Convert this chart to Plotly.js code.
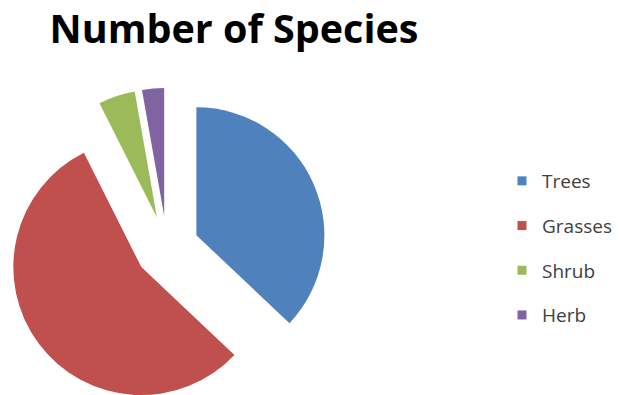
<!DOCTYPE html>
<html>
<head>
<meta charset="utf-8">
<script src="https://cdn.plot.ly/plotly-3.0.1.min.js"></script>
<style>
  html, body { margin: 0; padding: 0; overflow: hidden; background: #fff; }
  #chart { width: 619px; height: 410px; }
</style>
</head>
<body>
<div id="chart"></div>
<script>
const categories = ["Trees", "Grasses", "Shrub", "Herb"];
const speciesCounts = [40, 60, 5, 3];
const sliceColors = ["#4F81BD", "#C0504D", "#9BBB59", "#8064A2"];
const chartTitle = "Number of Species";

const pieTrace = {
  type: "pie",
  labels: categories,
  values: speciesCounts,
  sort: false,
  direction: "clockwise",
  rotation: 0,
  pull: categories.map(() => 0.25),
  marker: { colors: sliceColors, line: { width: 0 } },
  textinfo: "none",
  hoverinfo: "label+value",
  showlegend: false,
  domain: { x: [0, 1], y: [0, 1] }
};

const legendTraces = categories.map((name, i) => ({
  type: "scatter",
  mode: "markers",
  x: [null],
  y: [null],
  name: name,
  legendgroup: name,
  showlegend: true,
  marker: { symbol: "square", size: 9, color: sliceColors[i], line: { width: 0 } },
  hoverinfo: "skip"
}));

const layout = {
  width: 619,
  height: 410,
  paper_bgcolor: "#ffffff",
  plot_bgcolor: "#ffffff",
  margin: { l: 7, r: 292, t: 88, b: 2, autoexpand: false },
  title: {
    text: chartTitle,
    font: { family: "Open Sans", size: 39.5, color: "#000000", weight: 700 },
    x: 234 / 619,
    xref: "container",
    xanchor: "center",
    y: 1 - 15 / 410,
    yref: "container",
    yanchor: "top"
  },
  xaxis: { visible: false },
  yaxis: { visible: false },
  showlegend: true,
  legend: {
    x: (502 - 7) / 320,
    xanchor: "left",
    y: 1 - (162 - 88) / 320,
    yanchor: "top",
    tracegroupgap: 17,
    font: { family: "Open Sans", size: 19, color: "#404040" },
    bgcolor: "rgba(0,0,0,0)",
    borderwidth: 0
  }
};

Plotly.newPlot("chart", [pieTrace].concat(legendTraces), layout, { displayModeBar: false, staticPlot: true });
</script>
</body>
</html>
